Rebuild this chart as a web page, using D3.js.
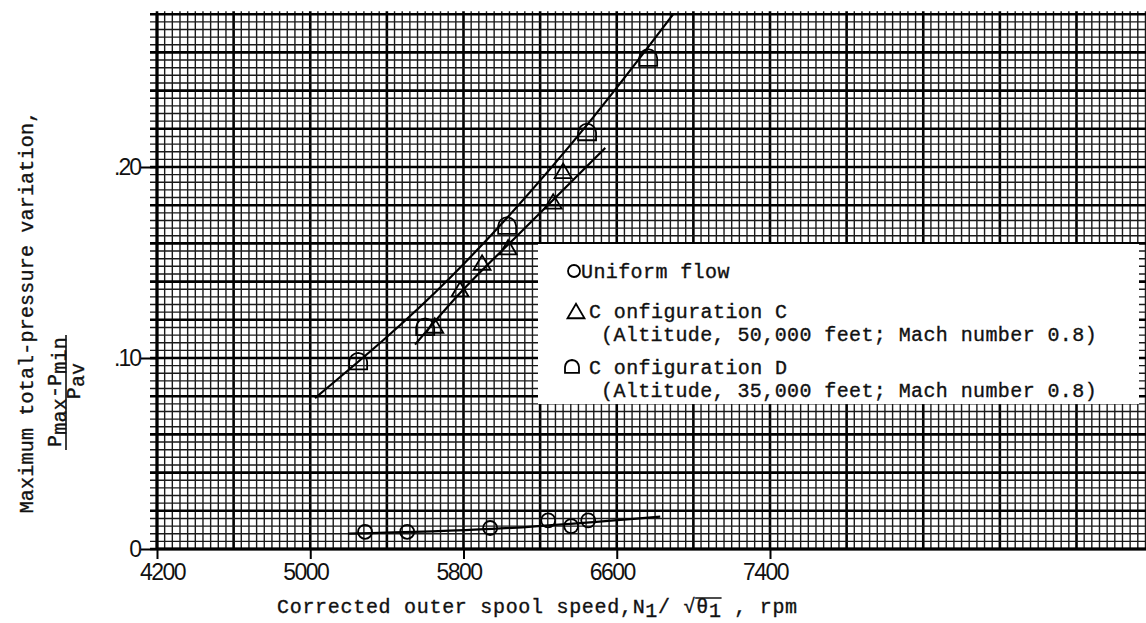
<!DOCTYPE html>
<html>
<head>
<meta charset="utf-8">
<script src="https://cdn.jsdelivr.net/npm/d3@7"></script>
<style>
  body { margin: 0; background: #fff; }
  svg { display: block; }
  .mono { font-family: "Liberation Mono", "DejaVu Sans Mono", monospace; font-size: 20px; fill: #111; stroke: #111; stroke-width: 0.35px; }
</style>
</head>
<body>
<svg id="chart" width="1146" height="623"></svg>
<script>
// Axis ticks
const rpmTicks = [4200, 5000, 5800, 6600, 7400];
const valueTicks = [0, 0.10, 0.20];
const valueTickLabels = ["0", ".10", ".20"];

// Uniform flow
const uniformRpm = [5286, 5506, 5939, 6242, 6362, 6451];
const uniformVal = [0.009, 0.009, 0.011, 0.015, 0.012, 0.015];
const uniformFitRpm = [5197, 5950, 6827];
const uniformFitVal = [0.008, 0.0105, 0.017];

// Configuration C (altitude 50,000 ft, Mach 0.8)
const configCRpm = [5650, 5782, 5897, 6033, 6268, 6320];
const configCVal = [0.117, 0.136, 0.150, 0.158, 0.182, 0.198];
const configCFitRpm = [5547, 5782, 6100, 6540];
const configCFitVal = [0.107, 0.134, 0.166, 0.210];

// Configuration D (altitude 35,000 ft, Mach 0.8)
const configDRpm = [5250, 5600, 6028, 6445, 6764];
const configDVal = [0.098, 0.116, 0.169, 0.218, 0.257];
const configDFitRpm = [5025, 5730, 6477, 6895];
const configDFitVal = [0.079, 0.142, 0.226, 0.280];

// Legend entries
const legendLines = [
  "Uniform flow",
  "C onfiguration C",
  "(Altitude, 50,000 feet; Mach number 0.8)",
  "C onfiguration D",
  "(Altitude, 35,000 feet; Mach number 0.8)"
];

const svg = d3.select("#chart");
const x = d3.scaleLinear().domain([4200, 7400]).range([157, 770]);
const y = d3.scaleLinear().domain([0, 0.20]).range([549, 167]);

const gridRight = 1146, gridLeft = 150;
const yTop = y(0.28);

// Graph-paper grid: fine lines every 40 rpm / 0.004, heavy every 400 rpm / 0.02
const grid = svg.append("g");
for (let k = 0; k <= 130; k++) {
  const r = 4200 + 40 * k;
  const px = x(r);
  if (px > gridRight + 2) break;
  const heavy = k % 10 === 0;
  grid.append("line")
    .attr("x1", px).attr("x2", px)
    .attr("y1", y(0)).attr("y2", yTop - 3)
    .attr("stroke", heavy ? "#000" : "#1a1a1a")
    .attr("stroke-width", heavy ? 2.6 : 1.4);
}
for (let k = 0; k <= 70; k++) {
  const v = 0.004 * k;
  const heavy = k % 5 === 0;
  grid.append("line")
    .attr("x1", gridLeft).attr("x2", gridRight)
    .attr("y1", y(v)).attr("y2", y(v))
    .attr("stroke", heavy ? "#000" : "#1a1a1a")
    .attr("stroke-width", heavy ? 2.6 : 1.4);
}

// Axes
svg.append("line").attr("x1", x(4200)).attr("x2", x(4200))
  .attr("y1", yTop).attr("y2", y(0)).attr("stroke", "#000").attr("stroke-width", 3);
svg.append("line").attr("x1", x(4200)).attr("x2", gridRight)
  .attr("y1", y(0)).attr("y2", y(0)).attr("stroke", "#000").attr("stroke-width", 3);

const xAxis = svg.append("g").attr("transform", `translate(0,${y(0)})`)
  .call(d3.axisBottom(x).tickValues(rpmTicks).tickFormat(d3.format("d")).tickSize(10).tickSizeOuter(0).tickPadding(5));
xAxis.attr("font-family", "Liberation Sans, DejaVu Sans, sans-serif").attr("font-size", 23);
xAxis.select(".domain").remove();
xAxis.selectAll(".tick line").attr("stroke", "#000").attr("stroke-width", 2);
xAxis.selectAll(".tick text").attr("fill", "#111").attr("dx", d => d === 4200 ? 5 : -5).attr("letter-spacing", "-1.5px");

const yAxis = svg.append("g").attr("transform", `translate(${x(4200)},0)`)
  .call(d3.axisLeft(y).tickValues(valueTicks).tickFormat((d, i) => valueTickLabels[i]).tickSize(16).tickSizeOuter(0).tickPadding(1));
yAxis.attr("font-family", "Liberation Sans, DejaVu Sans, sans-serif").attr("font-size", 23);
yAxis.select(".domain").remove();
yAxis.selectAll(".tick line").attr("stroke", "#000").attr("stroke-width", 2);
yAxis.selectAll(".tick text").attr("fill", "#111").attr("letter-spacing", "-2px");

// Legend panel
const lg = svg.append("g");
lg.append("rect").attr("x", 538).attr("y", 244).attr("width", 601).attr("height", 160).attr("fill", "#fff");

// Symbols
function circleSym(sel, cx, cy, r) {
  sel.append("circle").attr("cx", cx).attr("cy", cy).attr("r", r)
    .attr("fill", "none").attr("stroke", "#000").attr("stroke-width", 1.8);
}
function triangleSym(sel, cx, cy, s) {
  const h = s * 0.85;
  sel.append("path")
    .attr("d", `M${cx - s / 2},${cy + h / 2}L${cx + s / 2},${cy + h / 2}L${cx},${cy - h / 2}Z`)
    .attr("fill", "none").attr("stroke", "#000").attr("stroke-width", 1.8);
}
function houseSym(sel, cx, cy, s) {
  const w = s / 2;
  sel.append("path")
    .attr("d", `M${cx - w},${cy + w * 0.85}L${cx + w},${cy + w * 0.85}L${cx + w},${cy}Q${cx + w * 0.9},${cy - w * 0.9} ${cx},${cy - w}Q${cx - w * 0.9},${cy - w * 0.9} ${cx - w},${cy}Z`)
    .attr("fill", "none").attr("stroke", "#000").attr("stroke-width", 1.8);
}

const lineGen = d3.line().curve(d3.curveMonotoneX);
function fitLine(rpms, vals) {
  svg.append("path")
    .attr("d", lineGen(rpms.map((r, i) => [x(r), y(vals[i])])))
    .attr("fill", "none").attr("stroke", "#000").attr("stroke-width", 2.2);
}
fitLine(uniformFitRpm, uniformFitVal);
fitLine(configCFitRpm, configCFitVal);
fitLine(configDFitRpm, configDFitVal);

const marks = svg.append("g");
uniformRpm.forEach((r, i) => circleSym(marks, x(r), y(uniformVal[i]), 7));
configCRpm.forEach((r, i) => triangleSym(marks, x(r), y(configCVal[i]), 17));
configDRpm.forEach((r, i) => houseSym(marks, x(r), y(configDVal[i]), 18));

// Legend text
circleSym(lg, 574, 271, 6);
triangleSym(lg, 576, 311, 17);
houseSym(lg, 572, 367, 14);
const legendPos = [[581, 278], [589, 318], [601, 341], [589, 374], [601, 397]];
legendLines.forEach((t, i) => {
  lg.append("text").attr("class", "mono").attr("x", legendPos[i][0]).attr("y", legendPos[i][1])
    .attr("letter-spacing", "0.4px").text(t);
});

// X axis title with subscript and radical overline
const xl = svg.append("text").attr("class", "mono").attr("x", 277).attr("y", 613).attr("letter-spacing", "0.7px");
xl.append("tspan").text("Corrected outer spool speed,N");
xl.append("tspan").attr("dy", 4).text("1");
xl.append("tspan").attr("dy", -4).text("/ \u221A\u03B8");
xl.append("tspan").attr("dy", 4).text("1");
xl.append("tspan").attr("dy", -4).text(" , rpm");
{
  const n = xl.node();
  const b = n.getExtentOfChar(34), s = n.getExtentOfChar(32);
  svg.append("line").attr("x1", s.x + s.width - 1).attr("x2", b.x + b.width)
    .attr("y1", s.y + 2).attr("y2", s.y + 2).attr("stroke", "#111").attr("stroke-width", 1.5);
}

// Y axis title and the pressure-ratio fraction
svg.append("text").attr("class", "mono")
  .attr("transform", "translate(33,312) rotate(-90)")
  .attr("text-anchor", "middle").attr("letter-spacing", "0.2px")
  .text("Maximum total-pressure variation,");

const num = svg.append("text").attr("class", "mono")
  .attr("transform", "translate(61,392) rotate(-90)")
  .attr("text-anchor", "middle").attr("letter-spacing", "0.2px");
num.append("tspan").text("P");
num.append("tspan").attr("dy", 5).text("max");
num.append("tspan").attr("dy", -5).text("-P");
num.append("tspan").attr("dy", 5).text("min");
svg.append("line").attr("x1", 66).attr("x2", 66).attr("y1", 335).attr("y2", 450)
  .attr("stroke", "#111").attr("stroke-width", 1.6);
const den = svg.append("text").attr("class", "mono")
  .attr("transform", "translate(80,381) rotate(-90)")
  .attr("text-anchor", "middle").attr("letter-spacing", "0.2px");
den.append("tspan").text("P");
den.append("tspan").attr("dy", 4).text("av");
</script>
</body>
</html>
